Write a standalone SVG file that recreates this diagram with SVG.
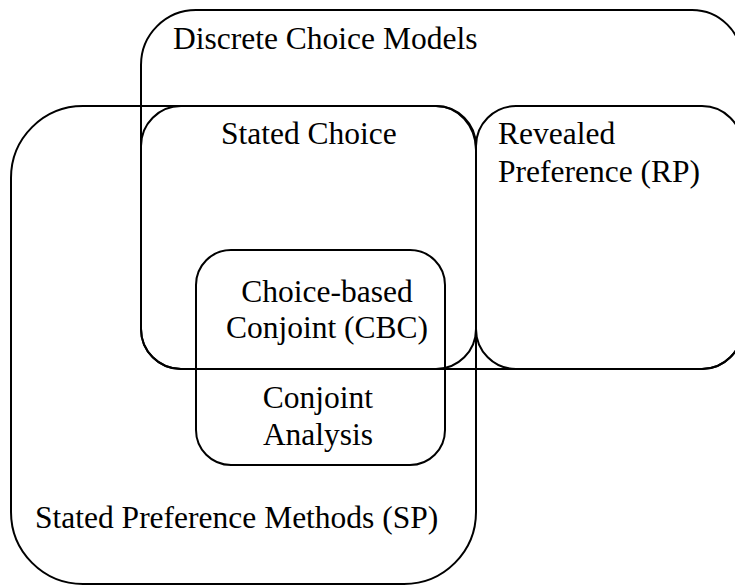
<svg xmlns="http://www.w3.org/2000/svg" width="735" height="586" viewBox="0 0 735 586">
<style>
.box{fill:none;stroke:#000;stroke-width:2}
text{font-family:'Liberation Serif','Times New Roman',serif;font-size:31.5px;fill:#000}
</style>
<rect width="735" height="586" fill="#fff"/>
<g id="dcm">
<path class="box" d="M141,329 L141,65 A55,55 0 0 1 196,10 L692,10 A50,50 0 0 1 742,60 L742,329 A40,40 0 0 1 702,369 L181,369 A40,40 0 0 1 141,329 Z"/>
<text x="173" y="49">Discrete Choice Models</text>
</g>
<g id="sp">
<path class="box" d="M11,178 A72,72 0 0 1 83,106 L436,106 A40,44 0 0 1 476,150 L476,512 A72,72 0 0 1 404,584 L83,584 A72,72 0 0 1 11,512 Z"/>
<text x="35" y="528">Stated Preference Methods (SP)</text>
</g>
<g id="sc">
<rect class="box" x="141" y="106" width="335" height="263" rx="40" ry="40"/>
<text x="221" y="144">Stated Choice</text>
</g>
<g id="rp">
<rect class="box" x="476" y="106" width="266" height="263" rx="40" ry="40"/>
<text x="498" y="144">Revealed</text>
<text x="498" y="182">Preference (RP)</text>
</g>
<g id="cbc">
<rect class="box" x="196" y="250" width="249" height="215" rx="35" ry="35"/>
<text x="327" y="302" text-anchor="middle">Choice-based</text>
<text x="327" y="338" text-anchor="middle">Conjoint (CBC)</text>
</g>
<g id="ca">
<text x="318" y="408" text-anchor="middle">Conjoint</text>
<text x="318" y="445" text-anchor="middle">Analysis</text>
</g>
<g id="connectors"/>
</svg>
